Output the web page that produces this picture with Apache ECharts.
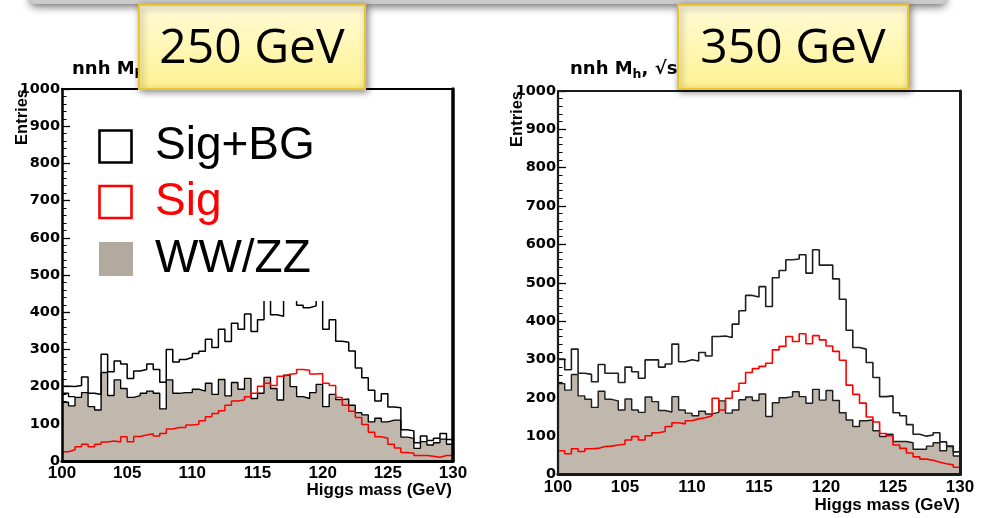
<!DOCTYPE html>
<html>
<head>
<meta charset="utf-8">
<script src="https://cdn.jsdelivr.net/npm/echarts@6/dist/echarts.min.js"></script>
<style>
html, body { margin: 0; padding: 0; background: #fff; }
#chart { width: 982px; height: 518px; }
</style>
</head>
<body>
<div id="chart"></div>
<script>
// Recoil Higgs mass histograms, 60 bins of 0.5 GeV between 100 and 130 GeV
const massMin = 100;
const massMax = 130;
const binWidth = 0.5;
const massTicks = [100, 105, 110, 115, 120, 125, 130];

// sqrt(s) = 250 GeV
const sigBg250 = [201, 200, 203, 226, 182, 179, 287, 240, 269, 261,
                  222, 242, 246, 261, 246, 212, 300, 266, 273, 278,
                  289, 295, 327, 305, 354, 321, 370, 354, 395, 348,
                  380, 436, 393, 389, 462, 438, 419, 412, 417, 442,
                  354, 380, 322, 319, 296, 250, 224, 190, 161, 181,
                  145, 143, 84, 81, 49, 67, 55, 61, 74, 58];
const sig250 = [25, 30, 38, 45, 38, 45, 51, 54, 51, 65,
                52, 66, 70, 73, 67, 74, 86, 90, 90, 97,
                99, 108, 119, 128, 135, 150, 161, 164, 173, 182,
                201, 209, 203, 228, 233, 235, 246, 244, 234, 235,
                209, 203, 171, 150, 134, 117, 98, 77, 65, 61,
                45, 35, 23, 21, 15, 15, 13, 10, 15, 15];
const wwzz250 = [158, 148, 171, 184, 146, 137, 238, 176, 218, 195,
                 171, 176, 182, 188, 182, 140, 218, 182, 184, 184,
                 193, 188, 209, 179, 219, 175, 211, 193, 222, 168,
                 182, 225, 195, 164, 231, 200, 173, 168, 184, 206,
                 146, 179, 165, 167, 150, 130, 124, 105, 115, 105,
                 110, 110, 64, 61, 34, 52, 43, 49, 59, 45];
// background outline where it sits above the WW/ZZ fill (first bins only)
const bgOutline250 = [182, 173];

// sqrt(s) = 350 GeV
const sigBg350 = [301, 273, 327, 264, 261, 242, 287, 264, 264, 240,
                  280, 268, 251, 299, 299, 280, 288, 340, 294, 299,
                  296, 318, 309, 360, 361, 357, 392, 427, 467, 463,
                  490, 438, 513, 532, 560, 562, 573, 525, 586, 546,
                  546, 510, 457, 376, 331, 327, 292, 253, 203, 205,
                  161, 153, 130, 105, 100, 103, 109, 85, 74, 59];
const sig350 = [62, 54, 67, 60, 67, 68, 73, 74, 77, 79,
                90, 99, 90, 101, 109, 112, 125, 135, 132, 140,
                145, 148, 153, 199, 168, 199, 217, 238, 266, 276,
                282, 290, 325, 334, 360, 347, 367, 341, 362, 351,
                335, 321, 298, 233, 209, 186, 150, 137, 107, 101,
                77, 68, 56, 46, 40, 37, 32, 28, 25, 19];
const wwzz350 = [237, 220, 261, 205, 196, 175, 217, 196, 192, 168,
                 197, 168, 162, 202, 190, 167, 163, 203, 168, 160,
                 153, 165, 158, 162, 192, 160, 168, 195, 202, 193,
                 210, 151, 187, 200, 203, 216, 203, 186, 222, 194,
                 219, 193, 161, 142, 125, 140, 142, 114, 99, 105,
                 86, 86, 83, 66, 66, 74, 83, 62, 73, 48];

const FONT_AXIS = '"DejaVu Sans", sans-serif';
const FONT_ARIAL = '"Liberation Sans", Arial, sans-serif';

// bin contents -> step outline points (left edges plus the closing edge)
function steps(vals) {
  const pts = vals.map((v, i) => [massMin + i * binWidth, v]);
  pts.push([massMin + vals.length * binWidth, vals[vals.length - 1]]);
  return pts;
}

const grids = [
  { left: 62, top: 89, width: 391, height: 372 },
  { left: 558, top: 91, width: 402, height: 383.5 }
];

function dataX(gi) {
  return {
    type: 'value', gridIndex: gi, min: massMin, max: massMax, interval: 5,
    axisLine: { show: false },
    axisTick: { show: true, inside: true, length: 9, lineStyle: { color: '#000', width: 1.3 } },
    minorTick: { show: true, splitNumber: 5, length: 5, lineStyle: { color: '#000', width: 1 } },
    axisLabel: {
      color: '#000', fontFamily: FONT_ARIAL, fontWeight: 'bold', fontSize: 17, margin: 4,
      customValues: massTicks, formatter: v => String(v)
    },
    splitLine: { show: false }
  };
}
function frameX(gi, pos, w, color) {
  return {
    type: 'value', gridIndex: gi, position: pos, min: 0, max: 1, z: 6,
    axisLine: { show: true, onZero: false, lineStyle: { color: color, width: w } },
    axisTick: { show: false }, axisLabel: { show: false }, splitLine: { show: false }
  };
}
function dataY(gi) {
  return {
    type: 'value', gridIndex: gi, min: 0, max: 1000, interval: 100,
    axisLine: { show: false },
    axisTick: { show: true, inside: true, length: 8, lineStyle: { color: '#000', width: 1.3 } },
    minorTick: { show: true, splitNumber: 5, length: 4.5, lineStyle: { color: '#000', width: 1 } },
    axisLabel: {
      color: '#000', fontFamily: FONT_AXIS, fontWeight: 'bold', fontSize: 14.5, margin: 2,
      formatter: v => String(v)
    },
    splitLine: { show: false }
  };
}
function frameY(gi, pos, w, color) {
  return {
    type: 'value', gridIndex: gi, position: pos, min: 0, max: 1, z: 6,
    axisLine: { show: true, onZero: false, lineStyle: { color: color, width: w } },
    axisTick: { show: false }, axisLabel: { show: false }, splitLine: { show: false }
  };
}

function histSeries(xi, yi, sigBg, sig, bg, lineColor, w) {
  return [
    {
      name: 'WW/ZZ', type: 'line', step: 'end', xAxisIndex: xi, yAxisIndex: yi,
      data: steps(bg), symbol: 'none', z: 2,
      lineStyle: { color: lineColor, width: w * 0.9 },
      areaStyle: { color: '#c0b7ad', opacity: 1 }
    },
    {
      name: 'Sig', type: 'line', step: 'end', xAxisIndex: xi, yAxisIndex: yi,
      data: steps(sig), symbol: 'none', z: 3,
      lineStyle: { color: '#ff0000', width: w }
    },
    {
      name: 'Sig+BG', type: 'line', step: 'end', xAxisIndex: xi, yAxisIndex: yi,
      data: steps(sigBg), symbol: 'none', z: 4,
      lineStyle: { color: lineColor, width: w }
    }
  ];
}

function titleText(x, energy) {
  return {
    type: 'text', x: x, y: 69, z: 20,
    style: {
      text: '{a|nnh M}{s|h}{a|, √s=' + energy + ' GeV}',
      verticalAlign: 'middle',
      rich: {
        a: { font: 'bold 18px ' + FONT_AXIS, fill: '#000' },
        s: { font: 'bold 12.5px ' + FONT_AXIS, fill: '#000', padding: [11, 0, 0, 0] }
      }
    }
  };
}
function entriesText(x, y) {
  return {
    type: 'text', x: x, y: y, rotation: Math.PI / 2, z: 20,
    style: { text: 'Entries', font: 'bold 16.5px ' + FONT_ARIAL, fill: '#000', align: 'right', verticalAlign: 'middle' }
  };
}
function massTitle(xRight, y) {
  return {
    type: 'text', x: xRight, y: y, z: 20,
    style: { text: 'Higgs mass (GeV)', font: 'bold 17px ' + FONT_ARIAL, fill: '#000', align: 'right', verticalAlign: 'middle' }
  };
}
function callout(x, w, label) {
  return [
    {
      type: 'rect', z: 40,
      shape: { x: x, y: 5, width: w, height: 84 },
      style: {
        fill: new echarts.graphic.LinearGradient(0, 0, 0, 1, [
          { offset: 0, color: '#fffbd8' }, { offset: 1, color: '#fff291' }
        ]),
        stroke: '#ecc42c', lineWidth: 2,
        shadowBlur: 7, shadowColor: 'rgba(0,0,0,0.45)', shadowOffsetX: 2, shadowOffsetY: 2
      }
    },
    {
      type: 'text', z: 41, x: x + w / 2, y: 49,
      style: { text: label, font: '48px "Open Sans", sans-serif', fill: '#000', align: 'center', verticalAlign: 'middle' }
    }
  ];
}
function legendRow(y, kind, label, color) {
  const marker = kind === 'fill'
    ? { type: 'rect', z: 31, shape: { x: 99, y: y - 17, width: 34, height: 34 }, style: { fill: '#b3aa9f' } }
    : { type: 'rect', z: 31, shape: { x: 99.5, y: y - 16, width: 32, height: 32 }, style: { fill: 'none', stroke: color, lineWidth: 2.6 } };
  return [
    marker,
    { type: 'text', z: 31, x: 155, y: y, style: { text: label, font: '46px ' + FONT_ARIAL, fill: color, verticalAlign: 'middle' } }
  ];
}

const chart = echarts.init(document.getElementById('chart'), null, { renderer: 'canvas', width: 982, height: 518 });

chart.setOption({
  animation: false,
  backgroundColor: '#ffffff',
  grid: grids,
  xAxis: [
    dataX(0), frameX(0, 'bottom', 3.2, '#000'), frameX(0, 'top', 2, '#000'),
    dataX(1), frameX(1, 'bottom', 3, '#1a1a1a'), frameX(1, 'top', 2, '#1a1a1a')
  ],
  yAxis: [
    dataY(0), frameY(0, 'left', 2.5, '#000'), frameY(0, 'right', 3.5, '#000'),
    dataY(1), frameY(1, 'left', 2.2, '#1a1a1a'), frameY(1, 'right', 3, '#1a1a1a')
  ],
  series: [
    ...histSeries(0, 0, sigBg250, sig250, wwzz250, '#000', 1.5),
    {
      name: 'BG', type: 'line', step: 'end', xAxisIndex: 0, yAxisIndex: 0,
      data: steps(bgOutline250), symbol: 'none', z: 4,
      lineStyle: { color: '#000', width: 1.4 }
    },
    ...histSeries(3, 3, sigBg350, sig350, wwzz350, '#1e1e1e', 1.6)
  ],
  graphic: [
    // slide header strip
    {
      type: 'rect', z: 35, shape: { x: 30, y: -20, width: 916, height: 24, r: 5 },
      style: { fill: '#cbcbcb', shadowBlur: 8, shadowColor: 'rgba(0,0,0,0.55)', shadowOffsetY: 3 }
    },
    titleText(72, 250),
    titleText(570, 350),
    entriesText(22, 89),
    entriesText(517, 91),
    massTitle(452, 490),
    massTitle(960, 505),
    // legend panel
    { type: 'rect', z: 30, shape: { x: 71, y: 93, width: 262, height: 208 }, style: { fill: '#ffffff' } },
    ...legendRow(146.5, 'box', 'Sig+BG', '#000000'),
    ...legendRow(202, 'box', 'Sig', '#ff0000'),
    ...legendRow(259, 'fill', 'WW/ZZ', '#000000'),
    ...callout(139, 226, '250 GeV'),
    ...callout(678, 230, '350 GeV')
  ]
});
</script>
</body>
</html>
